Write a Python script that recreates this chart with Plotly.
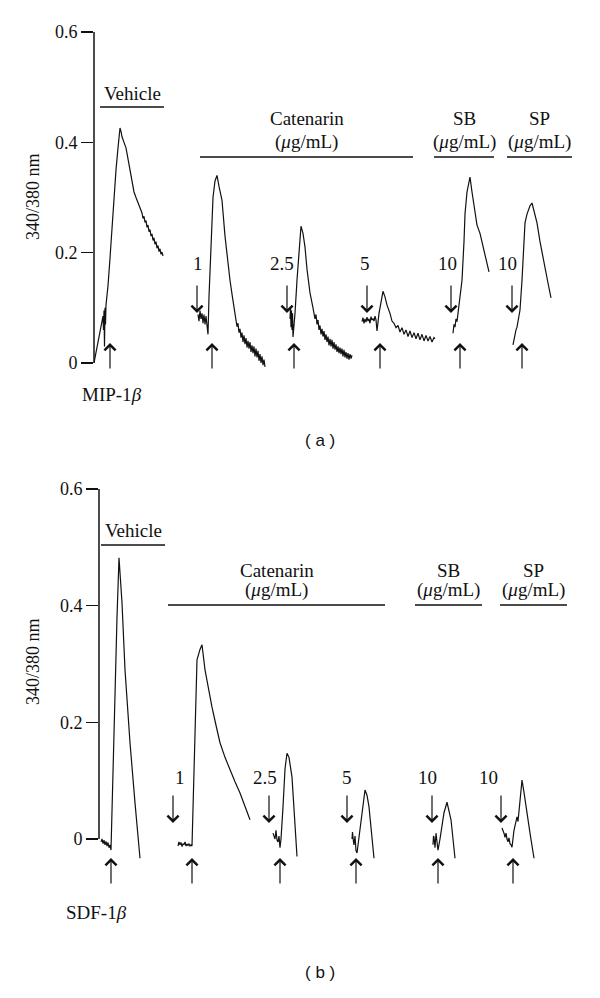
import plotly.graph_objects as go

W, H = 600, 998

# ---------------- DATA ----------------
# Each trace: time relative to chemokine addition (upward arrow), ratio 340/380 nm
# Panel (a): MIP-1beta
A_VEH_T = [-16, -14, -12, -10, -9, -8, -7, -6.5, -6, -5.5, -5, -4.5, -4, -3, -2, 0, 2, 4, 6, 8, 10, 11, 12, 14, 16, 18, 20, 22, 24, 26, 28, 30, 32, 33, 34, 35, 36, 37, 38, 39, 40, 41, 42, 43, 44, 45, 46, 47, 48, 49, 50, 51, 52, 53]
A_VEH_R = [0, 0.02, 0.04, 0.06, 0.065, 0.08, 0.085, 0.06, 0.095, 0.03, 0.1, 0.07, 0.105, 0.12, 0.14, 0.19, 0.25, 0.3, 0.35, 0.39, 0.426, 0.42, 0.41, 0.4, 0.39, 0.37, 0.35, 0.33, 0.31, 0.3, 0.29, 0.283, 0.272, 0.262, 0.266, 0.255, 0.258, 0.246, 0.25, 0.238, 0.242, 0.23, 0.234, 0.222, 0.227, 0.215, 0.22, 0.208, 0.213, 0.202, 0.207, 0.197, 0.201, 0.194]

A_C1_T = [-14, -13, -12, -11, -10, -9, -8, -7, -6, -5, -4, -3, -1, 1, 3, 5, 7, 10, 13, 16, 18, 20, 22, 24, 25, 26, 27, 28, 29, 30, 31, 32, 33, 34, 35, 36, 37, 38, 39, 40, 41, 42, 43, 44, 45, 46, 47, 48, 49, 50, 51, 52, 53]
A_C1_R = [0.088, 0.076, 0.095, 0.08, 0.09, 0.072, 0.088, 0.07, 0.085, 0.062, 0.052, 0.12, 0.22, 0.3, 0.33, 0.34, 0.32, 0.295, 0.23, 0.175, 0.15, 0.125, 0.1, 0.08, 0.066, 0.072, 0.055, 0.062, 0.046, 0.055, 0.038, 0.05, 0.034, 0.045, 0.028, 0.04, 0.026, 0.038, 0.02, 0.032, 0.018, 0.03, 0.012, 0.026, 0.01, 0.022, 0.004, 0.016, 0.0, 0.012, -0.004, 0.006, -0.007]

A_C25_T = [-4, -3.5, -3, -2.5, -2, -1.5, -1, 1, 3, 5, 7, 9, 11, 13, 16, 19, 21, 22, 23, 24, 25, 26, 27, 28, 29, 30, 31, 32, 33, 34, 35, 36, 37, 38, 39, 40, 41, 42, 43, 44, 45, 46, 47, 48, 49, 50, 51, 52, 53, 54, 55, 56, 57, 58]
A_C25_R = [0.08, 0.1, 0.065, 0.095, 0.06, 0.09, 0.047, 0.09, 0.15, 0.21, 0.248, 0.235, 0.21, 0.17, 0.127, 0.1, 0.08, 0.088, 0.07, 0.078, 0.06, 0.068, 0.052, 0.062, 0.048, 0.058, 0.042, 0.052, 0.038, 0.048, 0.032, 0.044, 0.03, 0.042, 0.026, 0.038, 0.024, 0.034, 0.02, 0.03, 0.018, 0.028, 0.016, 0.026, 0.012, 0.024, 0.01, 0.02, 0.008, 0.018, 0.006, 0.016, 0.008, 0.014]

A_C5_T = [-18, -17, -16, -15, -14, -13, -12, -11, -10, -9, -8, -7, -6, -5, -4, -3, -1, 1, 3, 5, 7, 10, 12, 14, 16, 18, 20, 22, 24, 26, 28, 30, 32, 34, 36, 38, 40, 42, 44, 46, 48, 50, 52, 54, 55]
A_C5_R = [0.075, 0.082, 0.072, 0.08, 0.074, 0.083, 0.076, 0.08, 0.072, 0.084, 0.078, 0.08, 0.076, 0.085, 0.078, 0.058, 0.09, 0.11, 0.13, 0.12, 0.105, 0.09, 0.076, 0.072, 0.064, 0.068, 0.056, 0.064, 0.052, 0.06, 0.048, 0.058, 0.046, 0.055, 0.044, 0.054, 0.042, 0.052, 0.04, 0.05, 0.04, 0.048, 0.038, 0.046, 0.044]

A_SB_T = [-7, -6, -5, -4, -3, -2, 0, 2, 4, 5, 7, 10, 12, 15, 17, 20, 23, 26, 29]
A_SB_R = [0.054, 0.07, 0.065, 0.08, 0.075, 0.09, 0.12, 0.15, 0.22, 0.27, 0.31, 0.337, 0.31, 0.27, 0.25, 0.235, 0.21, 0.185, 0.165]

A_SP_T = [-9, -8, -7, -6, -5, -4, -3, -2, 0, 3, 5, 8, 10, 12, 15, 18, 20, 23, 26, 29]
A_SP_R = [0.033, 0.045, 0.05, 0.06, 0.065, 0.075, 0.085, 0.096, 0.15, 0.254, 0.27, 0.285, 0.29, 0.275, 0.254, 0.22, 0.2, 0.174, 0.145, 0.118]

# Panel (b): SDF-1beta
B_VEH_T = [-10, -9, -8, -7, -6, -5, -4, -3, -2, -1, 0, 2, 4, 6, 8, 11, 14, 19, 24, 29]
B_VEH_R = [-0.005, 0.0, -0.008, -0.002, -0.01, -0.004, -0.012, -0.006, -0.015, -0.01, -0.019, 0.12, 0.25, 0.38, 0.482, 0.405, 0.29, 0.165, 0.062, -0.033]

B_C1_T = [-14, -13, -12, -11, -10, -9, -8, -7, -6, -5, -4, -3, -2, -1, 0, 3, 5, 8, 10, 13, 16, 20, 24, 28, 33, 38, 43, 48, 53, 58]
B_C1_R = [-0.012, -0.005, -0.01, -0.006, -0.013, -0.008, -0.01, -0.005, -0.012, -0.009, -0.011, -0.008, -0.012, -0.01, -0.012, 0.19, 0.307, 0.325, 0.333, 0.29, 0.26, 0.226, 0.195, 0.165, 0.14, 0.118, 0.098, 0.079, 0.055, 0.033]

B_C25_T = [-7, -6, -5, -4, -3, -2, -1, 0, 1, 3, 5, 7, 9, 12, 17]
B_C25_R = [0.01, 0.004, 0.0, 0.015, -0.002, -0.005, 0.005, -0.015, 0.0, 0.055, 0.12, 0.147, 0.14, 0.106, -0.03]

B_C5_T = [-4, -3.5, -3, -2, -1, 0, 1, 2, 4, 7, 9, 11, 13, 18]
B_C5_R = [0.0, 0.012, 0.002, -0.01, 0.005, -0.02, -0.024, -0.01, 0.02, 0.06, 0.084, 0.075, 0.055, -0.033]

B_SB_T = [-5, -4.5, -4, -3, -2, -1, 0, 2, 4, 6, 9, 11, 13, 17]
B_SB_R = [-0.01, 0.005, 0.003, -0.015, 0.01, -0.005, -0.019, 0.0, 0.02, 0.045, 0.063, 0.05, 0.033, -0.033]

B_SP_T = [-11, -10, -9, -8, -7, -6, -5, -4, -3, -2, -1, 1, 3, 4, 5, 6, 9, 11, 13, 17, 21]
B_SP_R = [0.019, 0.015, 0.01, 0.003, 0.01, 0.0, -0.005, 0.002, -0.008, -0.01, -0.014, 0.015, 0.03, 0.038, 0.03, 0.05, 0.101, 0.08, 0.055, 0.01, -0.033]

# Compound addition times (downward arrows), relative to chemokine addition
A_COMPOUND_T = [-15, -7, -13, -9, -10]
B_COMPOUND_T = [-19, -11, -9, -6, -12]
DOSES = ["1", "2.5", "5", "10", "10"]

Y_TICKS = [0, 0.2, 0.4, 0.6]
Y_TICK_LABELS = ["0", "0.2", "0.4", "0.6"]

# ---------------- LAYOUT ----------------
SERIF = "Liberation Serif"
SANS = "Liberation Sans"
FS = 19

A_SEGS = [(A_VEH_T, A_VEH_R), (A_C1_T, A_C1_R), (A_C25_T, A_C25_R), (A_C5_T, A_C5_R), (A_SB_T, A_SB_R), (A_SP_T, A_SP_R)]
B_SEGS = [(B_VEH_T, B_VEH_R), (B_C1_T, B_C1_R), (B_C25_T, B_C25_R), (B_C5_T, B_C5_R), (B_SB_T, B_SB_R), (B_SP_T, B_SP_R)]

# horizontal placement of each recording (axis units)
A_POS = [110, 212, 294, 380, 460, 522]
B_POS = [111, 192, 280, 356, 438, 513]

panels = {
    "a": dict(axis_x=94, y0px=363, y6px=32, top=20, bot=378, segs=A_SEGS, pos=A_POS,
              comp=A_COMPOUND_T, up=(343, 370), down=(313, 284), dose_y=263,
              dose_x=[198, 282, 365, 447, 507], title_y=197, stim="MIP-1<i>β</i>", stim_xy=(112, 394),
              groups=[("Vehicle", 100, 164, 107, [93]),
                      ("Catenarin", 200, 413, 157, [119, 142]),
                      ("SB", 434, 494, 157, [119, 142]),
                      ("SP", 507, 572, 157, [119, 142])],
              label="( a )", label_y=440),
    "b": dict(axis_x=99, y0px=839, y6px=489, top=480, bot=875, segs=B_SEGS, pos=B_POS,
              comp=B_COMPOUND_T, up=(858, 885), down=(823, 794), dose_y=777,
              dose_x=[180, 265, 347, 427, 488], title_y=662, stim="SDF-1<i>β</i>", stim_xy=(97, 912),
              groups=[("Vehicle", 101, 165, 545, [530]),
                      ("Catenarin", 168, 385, 605, [570, 590]),
                      ("SB", 415, 482, 605, [570, 590]),
                      ("SP", 500, 567, 605, [570, 590])],
              label="( b )", label_y=972),
}

def py(p):
    return 1 - p / H

def pxx(p):
    return p / W

def text_ann(text, x, y, size=FS, family=SERIF, **kw):
    d = dict(text=text, x=pxx(x), y=py(y), xref="paper", yref="paper", showarrow=False,
             xanchor="center", yanchor="middle",
             font=dict(family=family, size=size, color="#111"))
    d.update(kw)
    return d

fig = go.Figure()
annotations = []
shapes = []

for i, key in enumerate(["a", "b"]):
    P = panels[key]
    suffix = "" if i == 0 else "2"
    xa = "x" + suffix
    ya = "y" + suffix
    ppu = (P["y0px"] - P["y6px"]) / 0.6
    r_top = 0.6 + (P["y6px"] - P["top"]) / ppu
    r_bot = -(P["bot"] - P["y0px"]) / ppu

    for (t, r), pos in zip(P["segs"], P["pos"]):
        fig.add_trace(go.Scatter(x=[pos + v for v in t], y=r, mode="lines",
                                 line=dict(color="#111", width=1.2),
                                 xaxis=xa, yaxis=ya, showlegend=False, hoverinfo="skip"))

    fig.layout["xaxis" + suffix] = dict(domain=[P["axis_x"] / W, 1], range=[P["axis_x"], W],
                                        visible=False, anchor=ya, fixedrange=True)
    fig.layout["yaxis" + suffix] = dict(domain=[py(P["bot"]), py(P["top"])], range=[r_bot, r_top],
                                        anchor=xa, showgrid=False, zeroline=False, showline=False,
                                        fixedrange=True,
                                        tickmode="array", tickvals=Y_TICKS, ticktext=Y_TICK_LABELS,
                                        ticks="outside", ticklen=12, tickwidth=1.3, tickcolor="#111",
                                        tickfont=dict(family=SERIF, size=18, color="#111"))
    # axis line from 0 to 0.6
    shapes.append(dict(type="line", xref=xa + " domain", yref=ya, x0=0, x1=0, y0=0, y1=0.6,
                       line=dict(color="#111", width=1.5)))

    # y-axis title
    annotations.append(text_ann("340/380 nm", 33, P["title_y"], size=18, textangle=-90))

    # chemokine arrows (up)
    for pos in P["pos"]:
        annotations.append(dict(x=pos, y=py(P["up"][0]), xref=xa, yref="paper", text="",
                                showarrow=True, ax=0, ay=P["up"][1] - P["up"][0],
                                arrowhead=4, arrowsize=1.8, arrowwidth=1.2, arrowcolor="#111"))
    # compound arrows (down) with dose labels
    for pos, ct, dose, dx in zip(P["pos"][1:], P["comp"], DOSES, P["dose_x"]):
        annotations.append(dict(x=pos + ct, y=py(P["down"][0]), xref=xa, yref="paper", text="",
                                showarrow=True, ax=0, ay=P["down"][1] - P["down"][0],
                                arrowhead=4, arrowsize=1.8, arrowwidth=1.2, arrowcolor="#111"))
        annotations.append(text_ann(dose, dx, P["dose_y"]))

    # stimulus label
    annotations.append(text_ann(P["stim"], P["stim_xy"][0], P["stim_xy"][1]))

    # group labels and bars
    for name, x0, x1, ybar, ys in P["groups"]:
        xc = (x0 + x1) / 2
        annotations.append(text_ann(name, xc, ys[0]))
        if len(ys) > 1:
            annotations.append(text_ann("(<i>μ</i>g/mL)", xc, ys[1]))
        shapes.append(dict(type="line", xref="paper", yref="paper", x0=pxx(x0), x1=pxx(x1),
                           y0=py(ybar), y1=py(ybar), line=dict(color="#111", width=1.5)))

    # panel label
    annotations.append(text_ann(P["label"], 320, P["label_y"], size=17, family=SANS))

fig.update_layout(width=W, height=H, margin=dict(l=0, r=0, t=0, b=0),
                  paper_bgcolor="white", plot_bgcolor="white",
                  annotations=annotations, shapes=shapes, showlegend=False)

fig.write_html("out.html", config={"displayModeBar": False, "staticPlot": True},
               post_script="document.body.style.margin='0';")
